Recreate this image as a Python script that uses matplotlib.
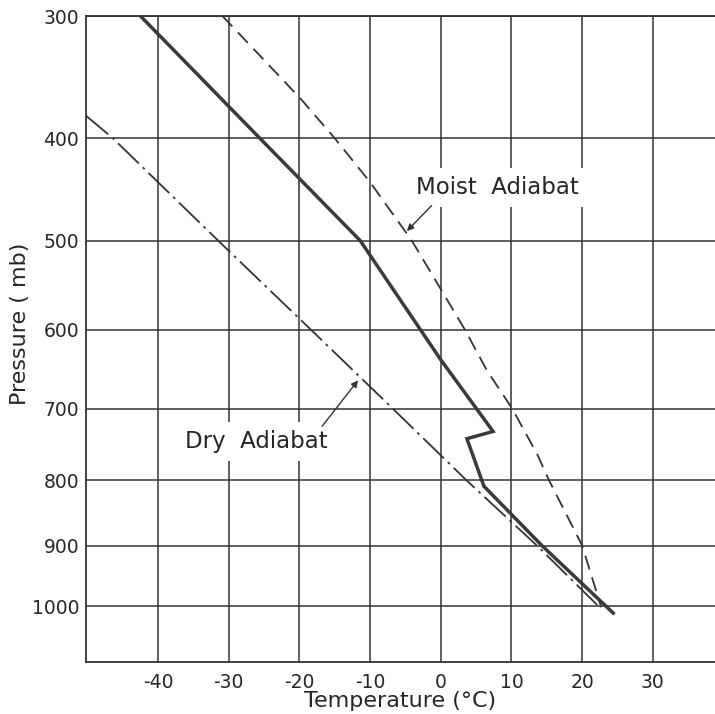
import numpy as np
import matplotlib
matplotlib.use("Agg")
import matplotlib.pyplot as plt

# values (pressure in mb, temperature in deg C)
env_p = [300, 400, 500, 637, 731, 741, 809, 900, 1012]
env_t = [-42.5, -25.6, -11.4, 0.0, 7.4, 3.7, 6.1, 14.3, 24.4]

moist_p = [300, 365, 400, 441, 500, 557, 600, 650, 700, 764, 800, 900, 1002]
moist_t = [-30.9, -19.9, -15.0, -10.0, -4.1, 0.3, 3.4, 6.5, 10.1, 13.7, 15.3, 20.0, 22.7]

dry_p = [380, 400, 500, 600, 700, 800, 900, 1000]
dry_t = [-50.2, -46.4, -31.5, -18.4, -6.8, 3.6, 13.6, 22.3]

temp_ticks = [-40, -30, -20, -10, 0, 10, 20, 30]
pres_ticks = [300, 400, 500, 600, 700, 800, 900, 1000]

# pressure axis of the chart goes like p**kappa
KAPPA = 0.3

def fwd(p):
    return np.sign(p) * np.abs(p) ** KAPPA

def inv(y):
    return np.sign(y) * np.abs(y) ** (1.0 / KAPPA)

plt.rcParams['font.family'] = ['DejaVu Sans']
INK = '#262626'

fig = plt.figure(figsize=(7.15, 7.14), dpi=100)
ax = fig.add_axes([86 / 715, 52 / 714, 629 / 715, 646 / 714])

ax.set_yscale('function', functions=(fwd, inv))
ax.set_xlim(-50.2, 38.8)
ax.set_ylim(1099, 300)

ax.set_xticks(temp_ticks)
ax.set_xticklabels([str(t) for t in temp_ticks])
ax.set_yticks(pres_ticks)
ax.set_yticklabels([str(p) for p in pres_ticks])
ax.minorticks_off()
ax.tick_params(length=0, labelsize=13.5, colors=INK)
ax.tick_params(axis='x', pad=8)
ax.tick_params(axis='y', pad=5)

ax.grid(True, color='#333333', linewidth=1.1)
ax.set_axisbelow(True)
for side in ['left', 'bottom', 'top']:
    ax.spines[side].set_color('#333333')
    ax.spines[side].set_linewidth(1.3)
ax.spines['right'].set_visible(False)

ax.plot(env_t, env_p, color='#3a3a3a', linewidth=2.5, solid_joinstyle='miter')
ax.plot(moist_t, moist_p, color='#333333', linewidth=1.3, linestyle=(0, (8, 4.5)))
ax.plot(dry_t, dry_p, color='#333333', linewidth=1.3, linestyle=(0, (16, 3, 1.5, 3)))

# labels with a white patch that hides the grid behind them
box = dict(facecolor='white', edgecolor='none', pad=6)
ax.text(8.0, 446, 'Moist  Adiabat', fontsize=16.5, color=INK,
        ha='center', va='center', bbox=box, zorder=4)
ax.text(-26.1, 745, 'Dry  Adiabat', fontsize=16.5, color=INK,
        ha='center', va='center', bbox=box, zorder=4)

arrow = dict(arrowstyle='-|>', color='#333333', lw=1.0,
             shrinkA=0, shrinkB=0, mutation_scale=10)
ax.annotate('', xy=(-4.8, 490), xytext=(-1.3, 464), arrowprops=arrow, zorder=5)
ax.annotate('', xy=(-11.7, 663), xytext=(-16.8, 724), arrowprops=arrow, zorder=5)

ax.set_xlabel('Temperature (°C)', fontsize=16, color=INK)
ax.xaxis.set_label_coords(0.5, -0.045)
ax.set_ylabel('Pressure ( mb)', fontsize=16, color=INK)
ax.yaxis.set_label_coords(-0.089, 0.523)

fig.savefig('out.png', dpi=100, facecolor='white')
